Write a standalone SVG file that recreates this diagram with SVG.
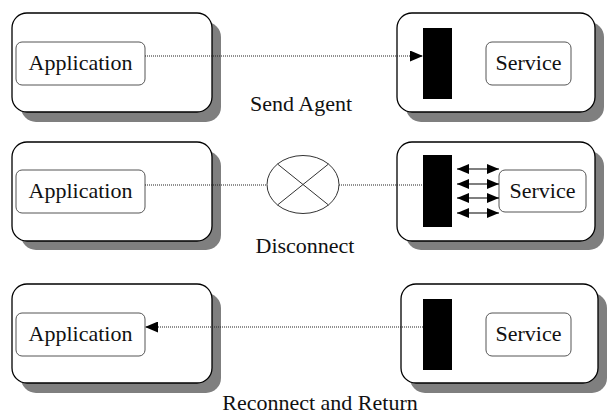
<svg xmlns="http://www.w3.org/2000/svg" width="613" height="416" viewBox="0 0 613 416">
<defs>
<style>
.shadow{fill:#7f7f7f;}
.outer{fill:#fff;stroke:#000;stroke-width:1.3;}
.inner{fill:#fff;stroke:#555;stroke-width:1;}
.agent{fill:#000;}
.lbl{font-family:'Liberation Serif','DejaVu Serif',serif;font-size:22px;fill:#111;text-anchor:middle;}
.dot{stroke:#222;stroke-width:1.2;stroke-dasharray:1 1;fill:none;}
.solid{stroke:#000;stroke-width:1.2;fill:none;}
</style>
<marker id="ah" viewBox="0 0 12 10" refX="12" refY="5" markerWidth="13" markerHeight="11" markerUnits="userSpaceOnUse" orient="auto" preserveAspectRatio="none">
<path d="M0,0 L12,5 L0,10 z" fill="#000"/>
</marker>
<marker id="ahs" viewBox="0 0 12 10" refX="12" refY="5" markerWidth="12" markerHeight="10" markerUnits="userSpaceOnUse" orient="auto-start-reverse" preserveAspectRatio="none">
<path d="M0,0 L12,5 L0,10 z" fill="#000"/>
</marker>
</defs>
<rect width="613" height="416" fill="#fff"/>

<!-- Row 1 -->
<g id="app-host-1">
<rect class="shadow" x="21" y="22" width="200" height="100" rx="15"/>
<rect class="outer" x="12" y="13" width="200" height="99" rx="15"/>
</g>
<g id="app-1">
<rect class="inner" x="16" y="42" width="129" height="43" rx="6"/>
<text class="lbl" x="80.5" y="70">Application</text>
</g>
<g id="svc-host-1">
<rect class="shadow" x="406" y="22" width="198" height="100" rx="15"/>
<rect class="outer" x="397" y="13" width="198" height="99" rx="15"/>
<rect class="agent" x="423" y="28" width="29" height="71"/>
</g>
<g id="svc-1">
<rect class="inner" x="486" y="42" width="85" height="43" rx="6"/>
<text class="lbl" x="528.5" y="70">Service</text>
</g>
<text class="lbl" x="301" y="111">Send Agent</text>

<!-- Row 2 -->
<g id="app-host-2">
<rect class="shadow" x="21" y="151" width="200" height="99" rx="15"/>
<rect class="outer" x="12" y="142" width="200" height="99" rx="15"/>
</g>
<g id="app-2">
<rect class="inner" x="16" y="170" width="129" height="43" rx="6"/>
<text class="lbl" x="80.5" y="198">Application</text>
</g>
<g id="disconnect">
<ellipse cx="303" cy="184.5" rx="36" ry="29" fill="#fff" stroke="#333" stroke-width="1"/>
<line x1="277.5" y1="164" x2="328.5" y2="205" stroke="#333" stroke-width="1"/>
<line x1="277.5" y1="205" x2="328.5" y2="164" stroke="#333" stroke-width="1"/>
</g>
<g id="svc-host-2">
<rect class="shadow" x="406" y="151" width="198" height="99" rx="15"/>
<rect class="outer" x="397" y="142" width="198" height="99" rx="15"/>
<rect class="agent" x="423" y="155" width="29" height="72"/>
</g>
<g id="svc-2">
<rect class="inner" x="499" y="170" width="87" height="42" rx="6"/>
<text class="lbl" x="542.5" y="198">Service</text>
</g>
<text class="lbl" x="305" y="253">Disconnect</text>

<!-- Row 3 -->
<g id="app-host-3">
<rect class="shadow" x="21" y="293" width="200" height="100" rx="15"/>
<rect class="outer" x="12" y="284" width="200" height="99" rx="15"/>
</g>
<g id="app-3">
<rect class="inner" x="16" y="313" width="129" height="43" rx="6"/>
<text class="lbl" x="80.5" y="341">Application</text>
</g>
<g id="svc-host-3">
<rect class="shadow" x="410" y="293" width="197" height="100" rx="15"/>
<rect class="outer" x="401" y="284" width="197" height="99" rx="15"/>
<rect class="agent" x="423" y="299" width="29" height="71"/>
</g>
<g id="svc-3">
<rect class="inner" x="486" y="313" width="85" height="43" rx="6"/>
<text class="lbl" x="528.5" y="341">Service</text>
</g>
<text class="lbl" x="320" y="410">Reconnect and Return</text>

<!-- Connectors -->
<g id="connectors">
<line class="dot" x1="145" y1="56" x2="423" y2="56" marker-end="url(#ah)"/>
<line class="dot" x1="145" y1="185" x2="267" y2="185"/>
<line class="dot" x1="339" y1="185" x2="423" y2="185"/>
<line class="solid" x1="457" y1="169" x2="499" y2="169" marker-start="url(#ahs)" marker-end="url(#ahs)"/>
<line class="solid" x1="457" y1="184" x2="499" y2="184" marker-start="url(#ahs)" marker-end="url(#ahs)"/>
<line class="solid" x1="457" y1="198" x2="499" y2="198" marker-start="url(#ahs)" marker-end="url(#ahs)"/>
<line class="solid" x1="457" y1="213" x2="499" y2="213" marker-start="url(#ahs)" marker-end="url(#ahs)"/>
<line class="dot" x1="423" y1="327" x2="145" y2="327" marker-end="url(#ah)"/>
</g>
</svg>
